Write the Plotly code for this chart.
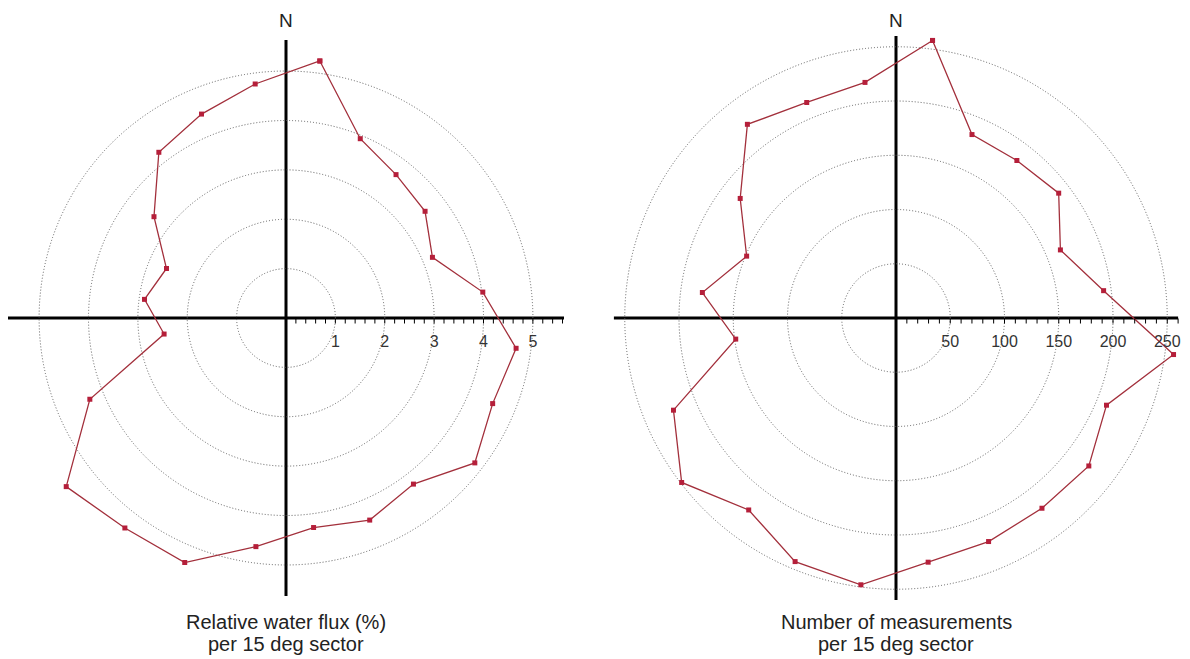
import plotly.graph_objects as go

# page body has an 8px margin, so the figure is drawn 8px in from the window corner
OFF = 8
W, H = 1190 - OFF, 659 - OFF

# sector centres, compass degrees (15-degree sectors)
sector_deg = [7.5 + 15 * i for i in range(24)]

# Relative water flux (%) per 15 deg sector
flux_pct = [5.25, 3.93, 3.66, 3.55, 3.21, 4.02, 4.70, 4.53, 4.82, 4.24, 4.43, 4.28,
            4.67, 5.36, 5.36, 5.61, 4.30, 2.49, 2.89, 2.62, 3.37, 4.23, 4.47, 4.78]

# Number of measurements per 15 deg sector
n_meas = [258, 183, 183, 189, 164, 193, 258, 210, 224, 221, 223, 227,
          248, 243, 223, 249, 222, 149, 180, 149, 181, 225, 215, 219]

flux_ticks = [1, 2, 3, 4, 5]
flux_minor = [round(0.2 * i, 1) for i in range(1, 29)]
meas_ticks = [50, 100, 150, 200, 250]
meas_minor = [10 * i for i in range(1, 27)]

titles_left = ["Relative water flux (%)", "per 15 deg sector"]
titles_right = ["Number of measurements", "per 15 deg sector"]

FONT = "Liberation Sans, Arial, sans-serif"
LINE_C = "#a3303c"
MARK_C = "#b51f3a"

def dom(cx, cy, rad):
    cx, cy = cx - OFF, cy - OFF
    return dict(x=[max(0.0, (cx - rad) / W), min(1.0, (cx + rad) / W)],
                y=[max(0.0, (H - cy - rad) / H), min(1.0, (H - cy + rad) / H)])

def px(x, y):
    return (x - OFF) / W, (H - (y - OFF)) / H

# window-pixel layout of the two rose diagrams
L_cx, L_cy, L_R = 286, 318, 5.63
L_pix = 278.0
R_cx, R_cy, R_R = 896, 318, 260
R_pix = R_R * 1.085

fig = go.Figure()

def closed(v):
    return list(v) + [v[0]]

fig.add_trace(go.Scatterpolar(
    r=closed(flux_pct), theta=closed(sector_deg), mode="lines+markers",
    line=dict(color=LINE_C, width=1.3),
    marker=dict(symbol="square", size=5, color=MARK_C),
    subplot="polar", showlegend=False, cliponaxis=False))
fig.add_trace(go.Scatterpolar(r=[0], theta=[0], mode="markers",
    marker=dict(opacity=0), subplot="polar2", showlegend=False, hoverinfo="skip"))

fig.add_trace(go.Scatterpolar(
    r=closed(n_meas), theta=closed(sector_deg), mode="lines+markers",
    line=dict(color=LINE_C, width=1.3),
    marker=dict(symbol="square", size=5, color=MARK_C),
    subplot="polar3", showlegend=False, cliponaxis=False))
fig.add_trace(go.Scatterpolar(r=[0], theta=[0], mode="markers",
    marker=dict(opacity=0), subplot="polar4", showlegend=False, hoverinfo="skip"))

def main_polar(domain, rng, ticks):
    return dict(
        domain=domain, bgcolor="white",
        radialaxis=dict(range=[0, rng], angle=0, side="clockwise",
                        tickmode="array", tickvals=ticks,
                        ticktext=[str(t) for t in ticks],
                        showgrid=True, gridcolor="#5e5e5e", griddash="1px,2px", gridwidth=1,
                        showline=False, ticks="outside", ticklen=9,
                        tickcolor="rgba(0,0,0,0)",
                        tickfont=dict(family=FONT, size=16, color="#333333"),
                        tickangle=0, layer="above traces"),
        angularaxis=dict(rotation=90, direction="clockwise",
                         tickmode="array", tickvals=[0, 90, 180, 270],
                         showgrid=True, gridcolor="black", gridwidth=3,
                         showline=False, ticks="", showticklabels=False))

def tick_polar(domain, rng, minor):
    return dict(
        domain=domain, bgcolor="rgba(0,0,0,0)",
        radialaxis=dict(range=[0, rng], angle=0, side="clockwise",
                        tickmode="array", tickvals=minor, showticklabels=False,
                        showgrid=False, showline=False, ticks="outside",
                        ticklen=5, tickwidth=1, tickcolor="black"),
        angularaxis=dict(rotation=90, direction="clockwise", showgrid=False,
                         showline=False, ticks="", showticklabels=False))

dL = dom(L_cx, L_cy, L_pix)
dR = dom(R_cx, R_cy, R_pix)

annotations = []
for cx, lines in ((L_cx, titles_left), (R_cx, titles_right)):
    ax, ay = px(cx, 20)
    annotations.append(dict(text="N", x=ax, y=ay, xref="paper", yref="paper",
                            showarrow=False, xanchor="center", yanchor="middle",
                            font=dict(family=FONT, size=19, color="#222222")))
    for k, txt in enumerate(lines):
        ax, ay = px(cx, 622 + 22 * k)
        annotations.append(dict(text=txt, x=ax, y=ay,
                                xref="paper", yref="paper", showarrow=False,
                                xanchor="center", yanchor="middle",
                                font=dict(family=FONT, size=20, color="#222222")))

fig.update_layout(
    width=W, height=H, paper_bgcolor="white",
    margin=dict(l=0, r=0, t=0, b=0),
    polar=main_polar(dL, L_R, flux_ticks),
    polar2=tick_polar(dL, L_R, flux_minor),
    polar3=main_polar(dR, R_R, meas_ticks),
    polar4=tick_polar(dR, R_R, meas_minor),
    annotations=annotations,
    showlegend=False,
)

fig.write_html("out.html")
